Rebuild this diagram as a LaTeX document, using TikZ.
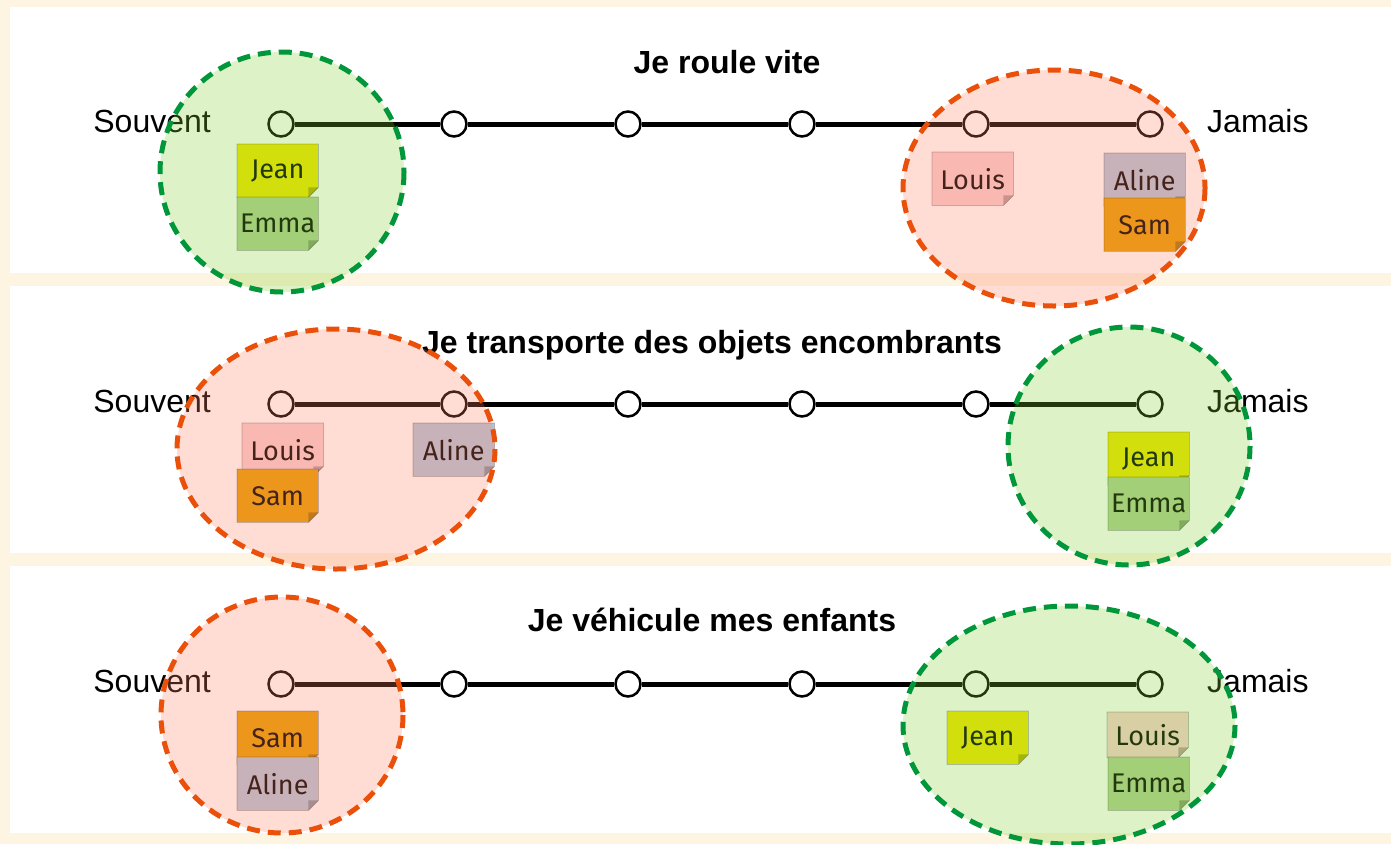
\documentclass[tikz,border=0pt]{standalone}
\usepackage{fontspec}
\setmainfont{Liberation Sans}
\newfontfamily\notefont{Fira Sans}
\usepackage{tikz}
\usetikzlibrary{calc}

\definecolor{cream}{RGB}{253,245,225}
\definecolor{jeancol}{RGB}{238,229,0}
\definecolor{emmacol}{RGB}{173,206,147}
\definecolor{louiscol}{RGB}{247,206,208}
\definecolor{alinecol}{RGB}{177,196,216}
\definecolor{samcol}{RGB}{229,160,0}
\definecolor{goodfill}{RGB}{135,210,50}
\definecolor{goodline}{RGB}{0,150,58}
\definecolor{badfill}{RGB}{255,130,100}
\definecolor{badline}{RGB}{235,80,10}

% sticky note: [height]{name}{colour}{top left}{text}
\newcommand{\postit}[5][53]{%
  \node[postit=#3,minimum height=#1pt] (#2) at (#4) {#5};
  \fill[white] (#2.south east) -- ++(-10,0) -- ++(10,-10) -- cycle;
  \fill[black,opacity=0.25] ($(#2.south east)+(-10,0)$) -- ++(10,-10) -- ++(-10,0) -- cycle;
  \draw[postit edge] ($(#2.south east)+(-10,0)$) -- (#2.south west) -- (#2.north west)
    -- (#2.north east) -- ($(#2.south east)+(0,-10)$) -- cycle;
}

\begin{document}
\begin{tikzpicture}
  [x=1pt,y=-1pt,
   tick/.style={circle,draw,line width=2.5pt,fill=white,inner sep=0pt,minimum size=25pt},
   track/.style={line width=5pt},
   scale label/.style={font=\fontsize{32}{38}\selectfont,inner sep=0pt},
   question/.style={font=\bfseries\fontsize{32}{38}\selectfont,inner sep=0pt,anchor=base},
   postit/.style={fill=#1,anchor=north west,minimum width=81pt,inner sep=0pt,
     font=\notefont\fontsize{27}{32}\selectfont},
   postit edge/.style={draw=black,draw opacity=0.3,line width=0.8pt},
   zone/.style={line width=5pt,dash pattern=on 13pt off 8pt,fill opacity=0.27}]

  \useasboundingbox (0,0) rectangle (1391,844);
  \fill[cream] (0,0) rectangle (1391,844);
  \foreach \top/\bot in {7/273,286/553,566/833}
    \fill[white] (10,\top) rectangle (1391,\bot);

  \node[question] (q1) at (727,73)  {Je roule vite};
  \node[question] (q2) at (712,353) {Je transporte des objets encombrants};
  \node[question] (q3) at (712,631) {Je véhicule mes enfants};

  \foreach \r/\y in {1/124,2/404,3/684}{
    \foreach \c/\x in {1/281,2/454,3/628,4/802,5/976,6/1150}
      \node[tick] (t\r\c) at (\x,\y) {};
    \foreach \from/\to in {1/2,2/3,3/4,4/5,5/6}
      \draw[track] (t\r\from) -- (t\r\to);
    \node[scale label,anchor=base east] (often\r) at (211,\y+8) {Souvent};
    \node[scale label,anchor=base west] (never\r) at (1207,\y+8) {Jamais};
  }

  % roule vite
  \postit{jean1}{jeancol}{237,144}{Jean}
  \postit{emma1}{emmacol}{237,197}{Emma}
  \postit{louis1}{louiscol}{932,152}{Louis}
  \postit{aline1}{alinecol}{1104,153}{Aline}
  \postit{sam1}{samcol}{1104,198}{Sam}

  % objets encombrants
  \postit{louis2}{louiscol}{242,423}{Louis}
  \postit{sam2}{samcol}{237,469}{Sam}
  \postit{aline2}{alinecol}{413,423}{Aline}
  \postit{jean2}{jeancol}{1108,432}{Jean}
  \postit{emma2}{emmacol}{1108,477}{Emma}

  % enfants
  \postit{sam3}{samcol}{237,711}{Sam}
  \postit{aline3}{alinecol}{237,757}{Aline}
  \postit{jean3}{jeancol}{947,711}{Jean}
  \postit[45]{louis3}{louiscol}{1107,712}{Louis}
  \postit{emma3}{emmacol}{1108,757}{Emma}

  \draw[zone,draw=goodline,fill=goodfill] (282,172)  ellipse [x radius=122,y radius=120];
  \draw[zone,draw=badline,fill=badfill]   (1054,188) ellipse [x radius=151,y radius=118];
  \draw[zone,draw=badline,fill=badfill]   (336,449)  ellipse [x radius=159,y radius=120];
  \draw[zone,draw=goodline,fill=goodfill] (1129,446) ellipse [x radius=121,y radius=119];
  \draw[zone,draw=badline,fill=badfill]   (282,715)  ellipse [x radius=121,y radius=118];
  \draw[zone,draw=goodline,fill=goodfill] (1069,725) ellipse [x radius=166,y radius=119];

\end{tikzpicture}
\end{document}
